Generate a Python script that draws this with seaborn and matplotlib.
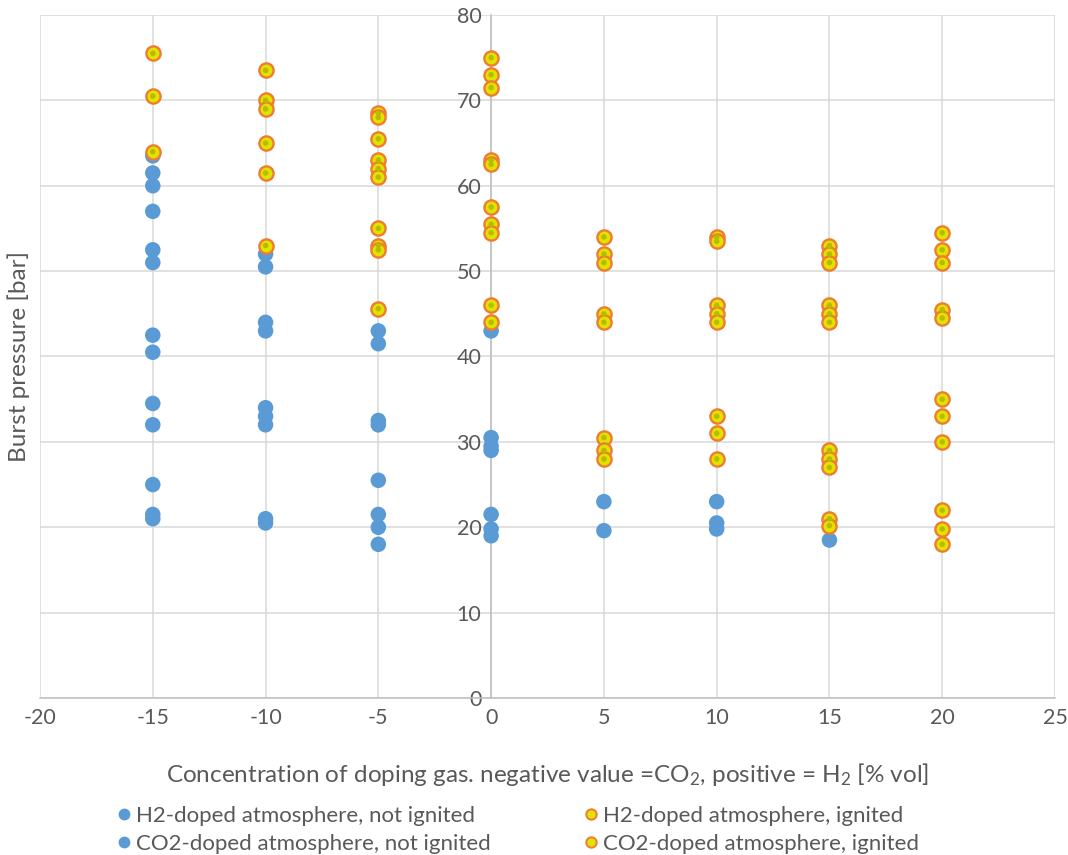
import numpy as np
import pandas as pd
import matplotlib
matplotlib.use("Agg")
import matplotlib.pyplot as plt
from matplotlib.lines import Line2D
import seaborn as sns

# Burst pressure tests: doping-gas concentration (negative = CO2, positive = H2)
co2_not_x = [-15] * 13 + [-10] * 9 + [-5] * 8
co2_not_p = [63.5, 61.5, 60, 57, 52.5, 51, 42.5, 40.5, 34.5, 32, 25, 21.5, 21,
             52, 50.5, 44, 43, 34, 33, 32, 21, 20.5,
             43, 41.5, 32.5, 32, 25.5, 21.5, 20, 18]

co2_ign_x = [-15] * 3 + [-10] * 6 + [-5] * 10
co2_ign_p = [75.5, 70.5, 64,
             73.5, 70, 69, 65, 61.5, 53,
             68.5, 68, 65.5, 63, 62, 61, 55, 53, 52.5, 45.6]

h2_not_x = [0] * 7 + [5] * 2 + [10] * 3 + [15] * 1
h2_not_p = [43, 30.5, 29.5, 29, 21.5, 19.8, 19,
            23, 19.6,
            23, 20.5, 19.8,
            18.5]

h2_ign_x = [0] * 10 + [5] * 8 + [10] * 8 + [15] * 11 + [20] * 11
h2_ign_p = [75, 73, 71.5, 63, 62.5, 57.5, 55.5, 54.5, 46, 44,
            54, 52, 51, 45, 44, 30.5, 29, 28,
            54, 53.5, 46, 45, 44, 33, 31, 28,
            53, 52, 51, 46, 45, 44, 29, 28, 27, 21, 20.2,
            54.5, 52.5, 51, 45.5, 44.5, 35, 33, 30, 22, 19.8, 18]

labels = ["H2-doped atmosphere, not ignited",
          "CO2-doped atmosphere, not ignited",
          "H2-doped atmosphere, ignited",
          "CO2-doped atmosphere, ignited"]

x_ticks = [-20, -15, -10, -5, 0, 5, 10, 15, 20, 25]
y_ticks = [0, 10, 20, 30, 40, 50, 60, 70, 80]

sns.set_theme(style="white")
plt.rcParams["font.family"] = ["Lato", "DejaVu Sans"]
plt.rcParams["mathtext.fontset"] = "custom"
plt.rcParams["mathtext.rm"] = "Lato"
plt.rcParams["mathtext.default"] = "regular"
plt.rcParams["axes.unicode_minus"] = False

TEXT = "#595959"
BLUE = "#5B9BD5"
ORANGE = "#ED7D31"
YELLOW = "#E2E200"
CORE = "#B9BA00"

not_df = pd.DataFrame({
    "x": co2_not_x + h2_not_x,
    "p": co2_not_p + h2_not_p,
})
ign_df = pd.DataFrame({
    "x": co2_ign_x + h2_ign_x,
    "p": co2_ign_p + h2_ign_p,
})

fig = plt.figure(figsize=(10.68, 8.55), dpi=100)
ax = fig.add_axes([40 / 1068, (855 - 698) / 855, 1015 / 1068, 683 / 855])

sns.scatterplot(data=not_df, x="x", y="p", ax=ax, color=BLUE, s=125,
                edgecolor="none", linewidth=0, zorder=3, legend=False)
sns.scatterplot(data=ign_df, x="x", y="p", ax=ax, color=YELLOW, s=105,
                edgecolor=ORANGE, linewidth=1.7, zorder=4, legend=False)
sns.scatterplot(data=ign_df, x="x", y="p", ax=ax, color=CORE, s=16,
                edgecolor="none", linewidth=0, zorder=5, legend=False)

ax.set_xlim(-20, 25)
ax.set_ylim(0, 80)
ax.set_xticks(x_ticks)
ax.set_yticks(y_ticks)
ax.grid(True, color="#D9D9D9", linewidth=1.1, zorder=0)
ax.set_axisbelow(True)

for side in ["top", "right"]:
    ax.spines[side].set_visible(False)
ax.spines["left"].set_position(("data", 0))
ax.spines["left"].set_color("#BFBFBF")
ax.spines["bottom"].set_color("#BFBFBF")
ax.spines["left"].set_linewidth(1.1)
ax.spines["bottom"].set_linewidth(1.1)

ax.tick_params(axis="both", length=0, labelsize=15.5, colors=TEXT)
ax.tick_params(axis="y", pad=7)
ax.tick_params(axis="x", pad=7)

ax.set_xlabel(r"Concentration of doping gas. negative value =CO$_2$, positive = H$_2$ [% vol]",
              fontsize=17.5, color=TEXT, labelpad=24)
ax.set_ylabel("Burst pressure [bar]", fontsize=17.5, color=TEXT)
ax.yaxis.set_label_coords(-0.0095, 0.5)

blue_h = Line2D([], [], linestyle="none", marker="o", markersize=7.5,
                markerfacecolor=BLUE, markeredgecolor=BLUE)
ign_h = Line2D([], [], linestyle="none", marker="o", markersize=7.5,
               markerfacecolor=YELLOW, markeredgecolor=ORANGE, markeredgewidth=1.4)
fig.legend([blue_h, blue_h, ign_h, ign_h], labels, ncol=2, frameon=False,
           loc="lower left", bbox_to_anchor=(103 / 1068, -0.010), fontsize=16,
           labelcolor=TEXT, handletextpad=0.05, handlelength=1.0,
           columnspacing=4.0, labelspacing=0.36, borderaxespad=0.05)

fig.savefig("out.png", dpi=100, facecolor="white")
